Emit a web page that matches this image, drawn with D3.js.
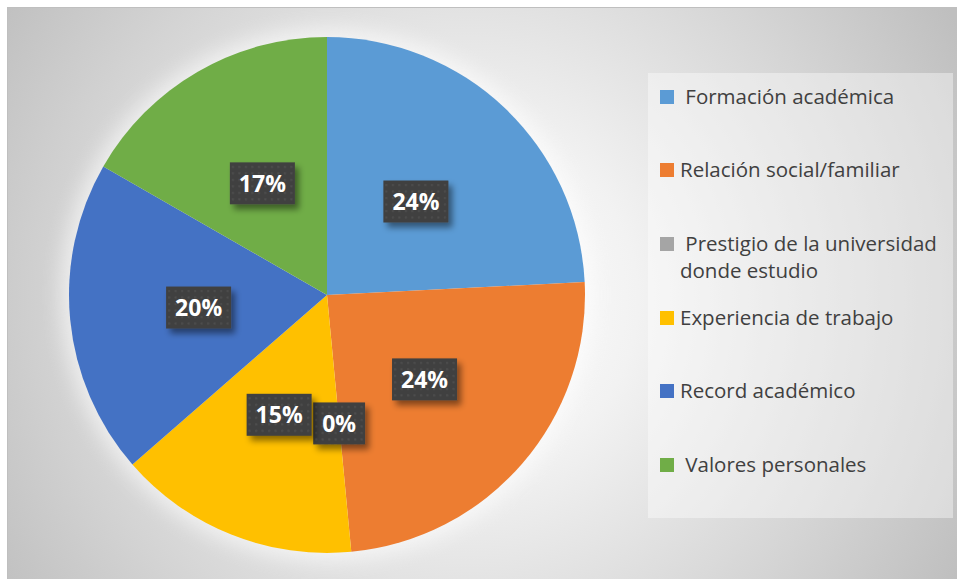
<!DOCTYPE html>
<html>
<head>
<meta charset="utf-8">
<script src="https://cdn.jsdelivr.net/npm/d3@7"></script>
<style>
  html, body { margin: 0; padding: 0; background: #fff; }
  svg { display: block; }
</style>
</head>
<body>
<svg width="957" height="579"></svg>
<script>
// Data
var categories = ["Formación académica", "Relación social/familiar",
  "Prestigio de la universidad donde estudio", "Experiencia de trabajo",
  "Record académico", "Valores personales"];
var legendLines = [[" Formación académica"], ["Relación social/familiar"],
  [" Prestigio de la universidad", "donde estudio"], ["Experiencia de trabajo"],
  ["Record académico"], [" Valores personales"]];
var values = [24.2, 24.3, 0, 15.1, 19.7, 16.7];
var labels = ["24%", "24%", "0%", "15%", "20%", "17%"];
var colors = ["#5b9bd5", "#ed7d31", "#a5a5a5", "#ffc000", "#4472c4", "#70ad47"];

var svg = d3.select("svg"),
    width = +svg.attr("width"),
    height = +svg.attr("height");

var defs = svg.append("defs");

// background gradient
var grad = defs.append("radialGradient")
    .attr("id", "bg")
    .attr("gradientUnits", "userSpaceOnUse")
    .attr("cx", 470).attr("cy", 300).attr("r", 560);
grad.append("stop").attr("offset", 0).attr("stop-color", "#ffffff");
grad.append("stop").attr("offset", 0.3).attr("stop-color", "#f2f2f2");
grad.append("stop").attr("offset", 0.72).attr("stop-color", "#d4d4d4");
grad.append("stop").attr("offset", 1).attr("stop-color", "#bfbfbf");

// dotted fill for the data labels
var pat = defs.append("pattern")
    .attr("id", "dots")
    .attr("patternUnits", "userSpaceOnUse")
    .attr("width", 6.5).attr("height", 6.5);
pat.append("rect").attr("width", 6.5).attr("height", 6.5).attr("fill", "#404040");
pat.append("rect").attr("x", 2).attr("y", 2).attr("width", 2).attr("height", 2).attr("fill", "#4e4e4e");

var shadow = defs.append("filter").attr("id", "shadow")
    .attr("x", "-30%").attr("y", "-30%").attr("width", "160%").attr("height", "170%");
shadow.append("feDropShadow")
    .attr("dx", 4).attr("dy", 5).attr("stdDeviation", 3)
    .attr("flood-color", "#000").attr("flood-opacity", 0.45);

var glow = defs.append("filter").attr("id", "glow")
    .attr("x", "-20%").attr("y", "-20%").attr("width", "140%").attr("height", "140%");
glow.append("feGaussianBlur").attr("stdDeviation", 10);

// chart area
svg.append("rect")
    .attr("x", 7.5).attr("y", 7.5)
    .attr("width", width).attr("height", height)
    .attr("fill", "url(#bg)")
    .attr("stroke", "#bfbfbf");

// pie
var cx = 327, cy = 295, radius = 258;
var g = svg.append("g").attr("transform", "translate(" + cx + "," + cy + ")");

g.append("circle")
    .attr("r", radius + 8)
    .attr("fill", "#fff")
    .attr("opacity", 0.6)
    .attr("filter", "url(#glow)");

var pie = d3.pie().sort(null).value(function(d) { return d; });
var arcs = pie(values);
var arc = d3.arc().innerRadius(0).outerRadius(radius);

g.selectAll("path.slice")
    .data(arcs)
  .enter().append("path")
    .attr("class", "slice")
    .attr("fill", function(d, i) { return colors[i]; })
    .attr("d", arc);

// data labels
var lab = g.selectAll("g.lab")
    .data(arcs)
  .enter().append("g")
    .attr("class", "lab")
    .attr("transform", function(d) { return "translate(" + arc.centroid(d) + ")"; });

lab.each(function(d, i) {
  var el = d3.select(this);
  var t = el.append("text")
      .attr("text-anchor", "middle")
      .attr("dy", "0.36em")
      .attr("fill", "#fff")
      .style("font-family", "'Open Sans', sans-serif")
      .style("font-weight", 700)
      .style("font-size", "23px")
      .text(labels[i]);
  var w = t.node().getComputedTextLength() + 18;
  el.insert("rect", "text")
      .attr("x", -w / 2).attr("y", -21)
      .attr("width", w).attr("height", 42)
      .attr("fill", "url(#dots)")
      .attr("filter", "url(#shadow)");
});

// legend
svg.append("rect")
    .attr("x", 648).attr("y", 73)
    .attr("width", 305).attr("height", 445)
    .attr("fill", "#fff")
    .attr("opacity", 0.4);

var rowY = [97, 170, 244, 318, 391, 465];
var leg = svg.selectAll("g.leg")
    .data(categories)
  .enter().append("g")
    .attr("class", "leg")
    .attr("transform", function(d, i) { return "translate(660," + rowY[i] + ")"; });

leg.append("rect")
    .attr("x", 0).attr("y", -7)
    .attr("width", 14).attr("height", 14)
    .attr("fill", function(d, i) { return colors[i]; });

leg.append("text")
    .attr("x", 20)
    .attr("fill", "#404040")
    .style("font-family", "'Open Sans', sans-serif")
    .style("font-size", "20.5px")
    .style("white-space", "pre")
    .selectAll("tspan")
    .data(function(d, i) { return legendLines[i]; })
  .enter().append("tspan")
    .attr("x", 20)
    .attr("y", function(d, j) { return j * 27; })
    .attr("dy", "0.35em")
    .text(function(d) { return d; });
</script>
</body>
</html>
